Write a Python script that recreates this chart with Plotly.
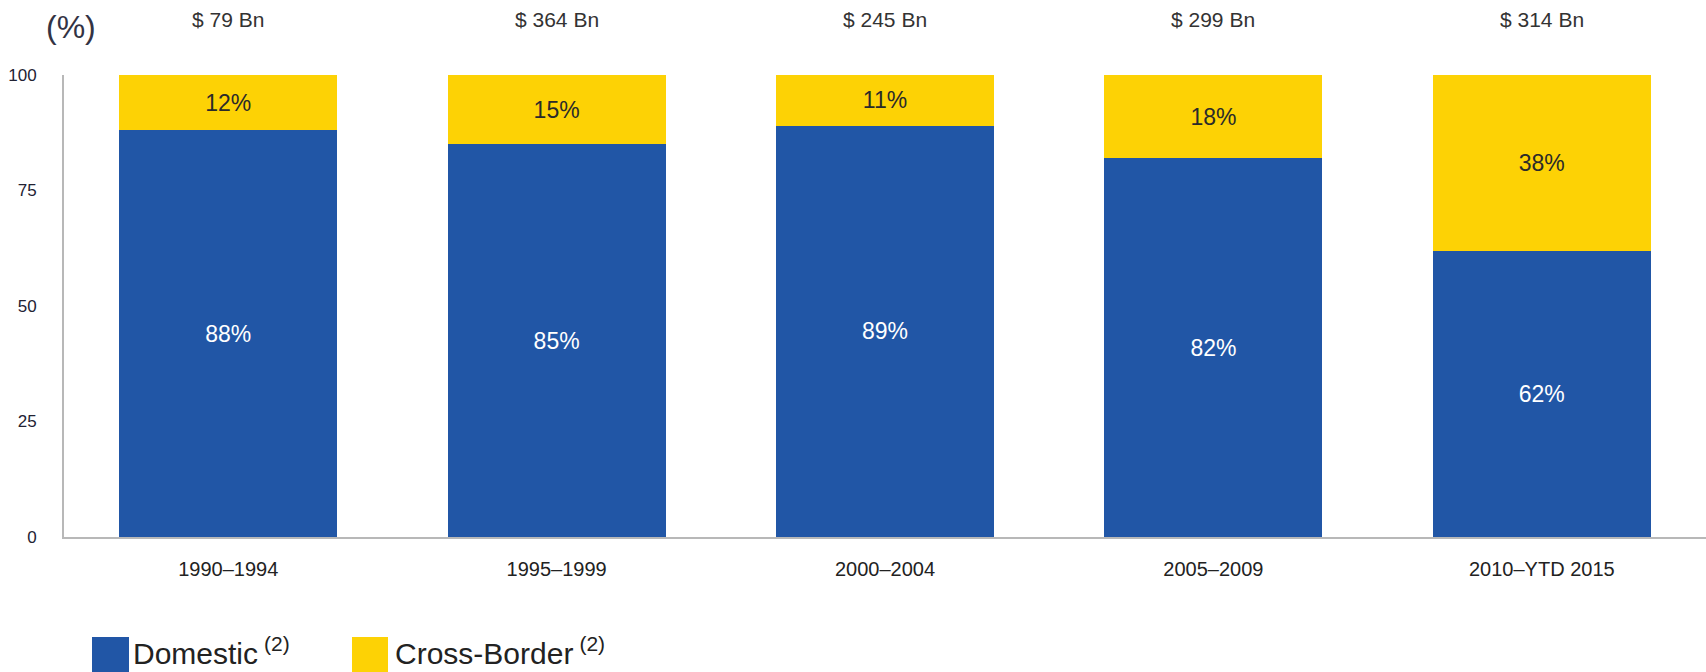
import plotly.graph_objects as go

# Data
periods = ["1990–1994", "1995–1999", "2000–2004", "2005–2009", "2010–YTD 2015"]
domestic = [88, 85, 89, 82, 62]
cross_border = [12, 15, 11, 18, 38]
deal_totals = ["$ 79 Bn", "$ 364 Bn", "$ 245 Bn", "$ 299 Bn", "$ 314 Bn"]
y_ticks = [0, 25, 50, 75, 100]

BLUE = "#2156A6"
YELLOW = "#FDD205"
FONT = "Liberation Sans, Arial, sans-serif"

W, H = 1706, 672
M_L, M_R, M_T, M_B = 64, 0, 75, 135
plot_w = W - M_L - M_R
plot_h = H - M_T - M_B


def px_x(px):
    return (px - M_L) / plot_w


def px_y(py):
    return (H - M_B - py) / plot_h


fig = go.Figure()
fig.add_trace(go.Bar(
    x=periods, y=domestic, name="Domestic",
    marker=dict(color=BLUE, line=dict(width=0)),
    text=[f"{v}%" for v in domestic],
    textposition="inside", insidetextanchor="middle",
    textfont=dict(size=23, color="white", family=FONT),
    constraintext="none",
))
fig.add_trace(go.Bar(
    x=periods, y=cross_border, name="Cross-Border",
    marker=dict(color=YELLOW, line=dict(width=0)),
    text=[f"{v}%" for v in cross_border],
    textposition="inside", insidetextanchor="middle",
    textfont=dict(size=23, color="#2a2a2a", family=FONT),
    constraintext="none",
))

annotations = []
# Deal value totals above each column
for p, t in zip(periods, deal_totals):
    annotations.append(dict(
        x=p, xref="x", y=px_y(19), yref="paper", text=t, showarrow=False,
        xanchor="center", yanchor="middle",
        font=dict(size=21, color="#333333", family=FONT),
    ))
# Unit label
annotations.append(dict(
    x=px_x(71), xref="paper", y=px_y(27), yref="paper", text="(%)",
    showarrow=False, xanchor="center", yanchor="middle",
    font=dict(size=32, color="#333344", family=FONT),
))

# Custom legend with large swatches
shapes = []
legend_items = [("Domestic", BLUE, 92, 129, 131), ("Cross-Border", YELLOW, 352, 388, 393)]
for label, color, x0, x1, tx in legend_items:
    shapes.append(dict(
        type="rect", xref="paper", yref="paper",
        x0=px_x(x0), x1=px_x(x1), y0=px_y(676), y1=px_y(637),
        fillcolor=color, line=dict(width=0), layer="above",
    ))
    annotations.append(dict(
        x=px_x(tx), xref="paper", y=px_y(651), yref="paper",
        text=f"{label}&#8201;<sup>(2)</sup>", showarrow=False,
        xanchor="left", yanchor="middle",
        font=dict(size=30, color="#222222", family=FONT),
    ))

fig.update_layout(
    barmode="stack",
    bargap=0.336,
    width=W, height=H,
    margin=dict(l=M_L, r=M_R, t=M_T, b=M_B, pad=0),
    paper_bgcolor="white", plot_bgcolor="white",
    showlegend=False,
    font=dict(family=FONT, color="#222222"),
    annotations=annotations,
    shapes=shapes,
)
fig.update_xaxes(
    showline=True, linecolor="#b8b8b8", linewidth=2,
    showgrid=False, ticks="", ticklabelstandoff=13,
    tickfont=dict(size=20, color="#222222", family=FONT),
)
fig.update_yaxes(
    range=[0, 100], tickvals=y_ticks,
    showline=True, linecolor="#b8b8b8", linewidth=2,
    showgrid=False, zeroline=False, ticks="", ticklabelstandoff=22,
    tickfont=dict(size=17, color="#222233", family=FONT),
)

fig.write_html("out.html")
